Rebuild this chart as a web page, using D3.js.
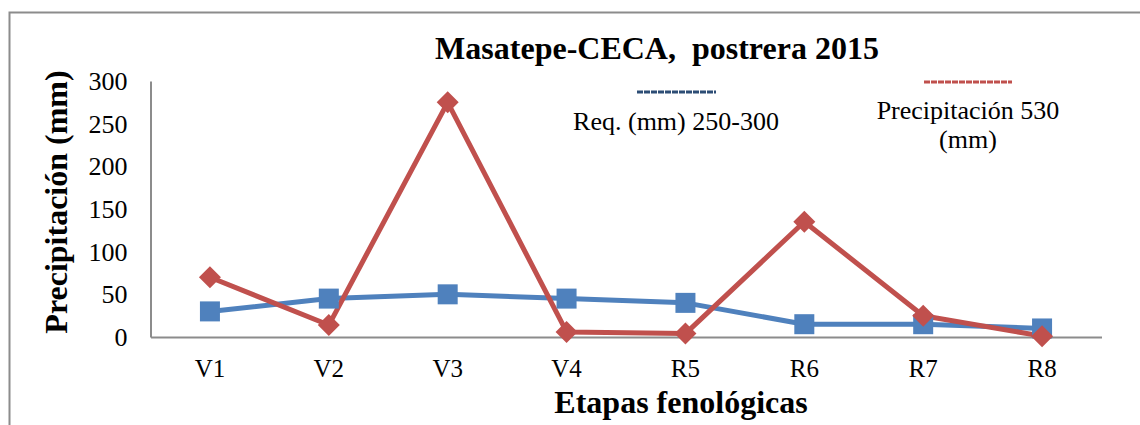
<!DOCTYPE html>
<html><head><meta charset="utf-8">
<script src="https://cdn.jsdelivr.net/npm/d3@7"></script>
</head><body style="margin:0;background:#fff"><svg id="c" width="1140" height="425" font-family="Liberation Serif"></svg>
<script>
const categories = ["V1","V2","V3","V4","R5","R6","R7","R8"];
const reqValues = [30,45,50,45,40,15,15,10];
const precipValues = [70,14,275,6,4,135,25,1];
const yTicks = [0,50,100,150,200,250,300];
const titleText = "Masatepe-CECA,  postrera 2015";
const yTitle = "Precipitación (mm)";
const xTitle = "Etapas fenológicas";
const legendReq = "Req. (mm) 250-300";
const legendPrecip = ["Precipitación 530","(mm)"];

const FONT = "Liberation Serif";
const svg = d3.select("#c");
const blue = "#4F81BD", red = "#C0504D";
// outer frame
svg.append("path").attr("d","M9.5,426 V12.5 H1141").attr("fill","none").attr("stroke","#8c8c8c").attr("stroke-width",2);

const x = d3.scaleBand().domain(categories).range([150.5,1101.5]);
const y = d3.scaleLinear().domain([0,300]).range([337,81]);
const cx = d => x(d)+x.bandwidth()/2;

// y axis
const ya = svg.append("g").attr("transform","translate(150.5,0)").call(d3.axisLeft(y).tickValues(yTicks).tickSize(0).tickPadding(23));
ya.attr("font-family",FONT);
ya.select(".domain").attr("stroke","#8c8c8c").attr("stroke-width",2);
ya.selectAll("text").attr("font-size",26).attr("fill","#000").attr("font-family",FONT).attr("dy","0.33em");
// x axis
const xa = svg.append("g").attr("transform","translate(0,337)").call(d3.axisBottom(x).tickSize(0).tickPadding(0));
xa.attr("font-family",FONT);
xa.select(".domain").attr("stroke","#8c8c8c").attr("stroke-width",2);
xa.selectAll("text").attr("font-size",25).attr("fill","#000").attr("font-family",FONT).attr("dy",null).attr("y",40);

const line = d3.line().x((d,i)=>cx(categories[i])).y(d=>y(d));
svg.append("path").datum(reqValues).attr("d",line).attr("fill","none").attr("stroke",blue).attr("stroke-width",5).attr("stroke-linejoin","round");
svg.append("path").datum(precipValues).attr("d",line).attr("fill","none").attr("stroke",red).attr("stroke-width",5).attr("stroke-linejoin","round");

svg.selectAll(".sq").data(reqValues).enter().append("rect")
  .attr("x",(d,i)=>cx(categories[i])-10).attr("y",d=>y(d)-10).attr("width",20).attr("height",20).attr("fill",blue);
svg.selectAll(".dm").data(precipValues).enter().append("path")
  .attr("d",(d,i)=>{const px=cx(categories[i]),py=y(d),r=11;return `M${px},${py-r}L${px+r},${py}L${px},${py+r}L${px-r},${py}Z`;})
  .attr("fill",red);

// title
svg.append("text").attr("x",657).attr("y",59).attr("text-anchor","middle").attr("font-family",FONT).attr("font-size",32).attr("font-weight","bold").style("white-space","pre").text(titleText);
// y title
svg.append("text").attr("transform","translate(67,202) rotate(-90)").attr("text-anchor","middle").attr("font-family",FONT).attr("font-size",32).attr("font-weight","bold").text(yTitle);
// x title
svg.append("text").attr("x",681).attr("y",413).attr("text-anchor","middle").attr("font-family",FONT).attr("font-size",32).attr("font-weight","bold").text(xTitle);

// legend
svg.append("line").attr("x1",637).attr("x2",716).attr("y1",92).attr("y2",92).attr("stroke","#2c4d75").attr("stroke-width",3).attr("stroke-dasharray","6,1");
svg.append("text").attr("x",676).attr("y",130).attr("text-anchor","middle").attr("font-family",FONT).attr("font-size",26).text(legendReq);
svg.append("line").attr("x1",924).attr("x2",1012).attr("y1",82).attr("y2",82).attr("stroke","#c0504d").attr("stroke-width",3).attr("stroke-dasharray","6,1");
legendPrecip.forEach((t,i)=>svg.append("text").attr("x",968).attr("y",119+i*29).attr("text-anchor","middle").attr("font-family",FONT).attr("font-size",26).text(t));
</script></body></html>
